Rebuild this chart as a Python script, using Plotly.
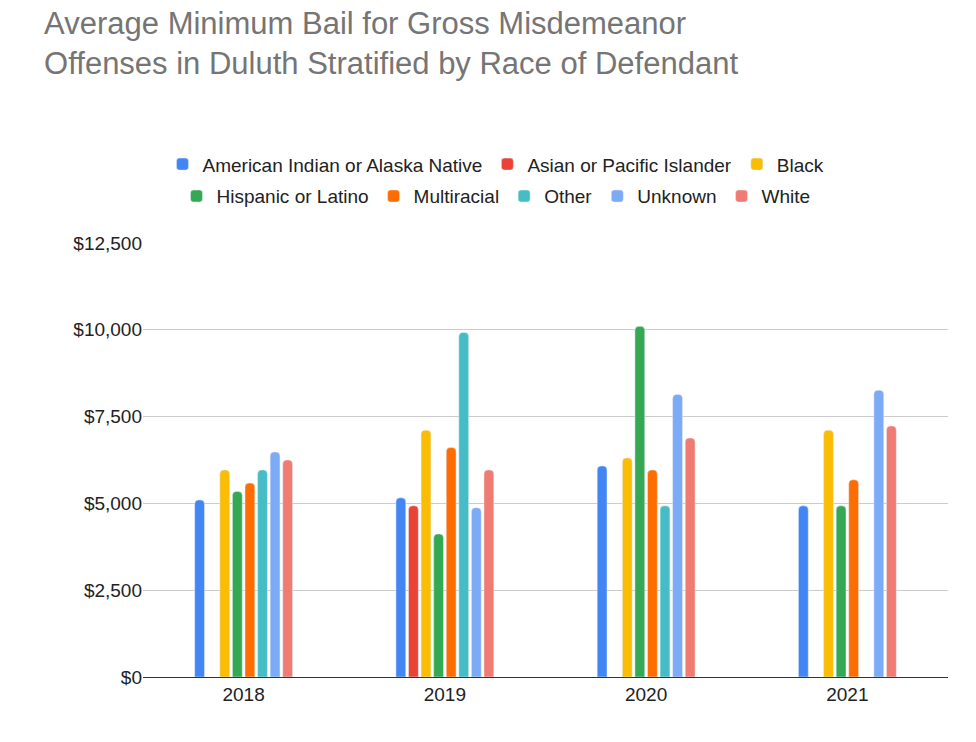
import plotly.graph_objects as go

years = ["2018", "2019", "2020", "2021"]
series = ["American Indian or Alaska Native", "Asian or Pacific Islander", "Black",
          "Hispanic or Latino", "Multiracial", "Other", "Unknown", "White"]
colors = ["#4285F4", "#EA4335", "#FBBC04", "#34A853", "#FF6D01", "#46BDC6", "#7BAAF7", "#F07B72"]
legend_row = ["legend", "legend", "legend", "legend2", "legend2", "legend2", "legend2", "legend2"]

american_indian = [5100, 5160, 6080, 4930]
asian = [None, 4930, None, None]
black = [5965, 7110, 6310, 7110]
hispanic = [5345, 4120, 10100, 4930]
multiracial = [5585, 6610, 5965, 5680]
other = [5965, 9925, 4930, None]
unknown = [6480, 4875, 8140, 8260]
white = [6250, 5965, 6885, 7230]
values = [american_indian, asian, black, hispanic, multiracial, other, unknown, white]

fig = go.Figure()
for name, vals, c, lg in zip(series, values, colors, legend_row):
    fig.add_trace(go.Bar(name=name, x=years, y=vals, marker_color=c, legend=lg))

leg = dict(orientation="h", xanchor="center", yanchor="top", xref="container", yref="container",
           font=dict(size=19), traceorder="normal", itemwidth=30)

fig.update_layout(
    width=976, height=742,
    paper_bgcolor="white", plot_bgcolor="white",
    font=dict(family="Liberation Sans, Arial", size=19, color="#222"),
    title=dict(text="Average Minimum Bail for Gross Misdemeanor<br>Offenses in Duluth Stratified by Race of Defendant",
               x=0.037, xanchor="left", y=0.965, yanchor="top",
               font=dict(size=31, color="#757575")),
    legend=dict(leg, x=0.5, y=0.815),
    legend2=dict(leg, x=0.5, y=0.772),
    margin=dict(l=135, r=36, t=235, b=73),
    barmode="group", bargap=0.5, bargroupgap=0.22, barcornerradius=4,
    xaxis=dict(showgrid=False, showline=True, linecolor="#333", ticks=""),
    yaxis=dict(range=[0, 12500], dtick=2500, tickprefix="$", tickformat=",",
               gridcolor="#cccccc", zeroline=False, ticks=""),
)
fig.write_html("out.html")
